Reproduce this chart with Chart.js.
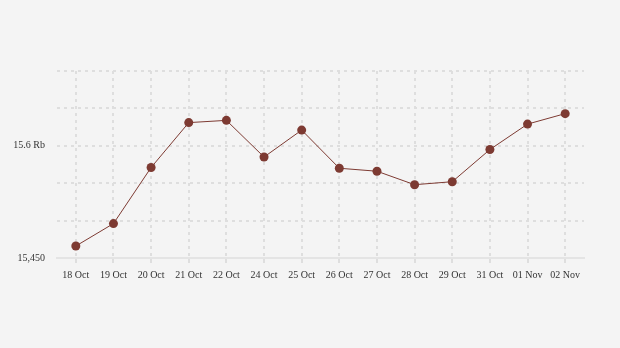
<!DOCTYPE html>
<html>
<head>
<meta charset="utf-8">
<script src="https://cdn.jsdelivr.net/npm/chart.js@4/dist/chart.umd.min.js"></script>
<style>
  html, body { margin: 0; padding: 0; background: #f4f4f4; }
  #wrap { width: 620px; height: 348px; }
</style>
</head>
<body>
<div id="wrap"><canvas id="chart"></canvas></div>
<script>
const labels = ['18 Oct', '19 Oct', '20 Oct', '21 Oct', '22 Oct', '24 Oct', '25 Oct',
  '26 Oct', '27 Oct', '28 Oct', '29 Oct', '31 Oct', '01 Nov', '02 Nov'];
const rates = [15466, 15496, 15571, 15631, 15634, 15585, 15621,
  15570, 15566, 15548, 15552, 15595, 15629, 15643];
const yMin = 15450;
const yMax = 15700;
const yStep = 50;
const yTickText = { 15450: '15,450', 15600: '15.6 Rb' };

const red = '#7d3a32';
const gridColor = '#dedede';
const font = { family: '"Liberation Serif", "Times New Roman", serif', size: 10 };

new Chart(document.getElementById('chart'), {
  type: 'line',
  data: {
    labels: labels,
    datasets: [{
      data: rates,
      borderColor: red,
      backgroundColor: red,
      borderWidth: 1,
      pointRadius: 4.5,
      pointHoverRadius: 5,
      pointBorderWidth: 0,
      tension: 0
    }]
  },
  options: {
    responsive: true,
    maintainAspectRatio: false,
    animation: false,
    layout: { padding: { top: 71, right: 36, bottom: 60, left: 0 } },
    plugins: { legend: { display: false }, tooltip: { enabled: false } },
    scales: {
      x: {
        offset: true,
        grid: { offset: false, color: gridColor, lineWidth: 2, tickLength: 5 },
        border: { display: true, color: '#e4e4e4', width: 2, dash: [3, 4] },
        ticks: { color: '#333', font: font, padding: 6, maxRotation: 0, autoSkip: false },
        afterFit: s => { s.height = 30; }
      },
      y: {
        min: yMin,
        max: yMax,
        grid: { color: gridColor, lineWidth: 2, drawTicks: false },
        border: { display: false, dash: [3, 4] },
        ticks: {
          stepSize: yStep,
          color: '#333',
          font: font,
          padding: 12,
          callback: v => yTickText[v] || ''
        },
        afterFit: s => { s.width = 57; }
      }
    }
  }
});
</script>
</body>
</html>
